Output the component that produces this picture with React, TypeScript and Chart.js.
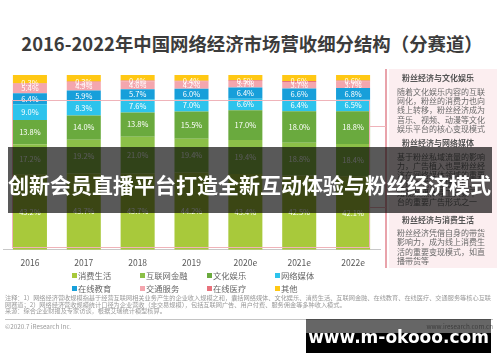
import React, { useEffect, useRef } from "react";
import { Chart, registerables } from "chart.js";

Chart.register(...registerables);

// ---------- data ----------
const categories = ["2016", "2017", "2018", "2019", "2020e", "2021e", "2022e"];
const seriesNames = ["消费生活", "互联网金融", "文化娱乐", "网络媒体", "在线教育", "交通服务", "在线医疗", "其他"];
const consumerLife = [43.2, 43.7, 43.7, 44.2, 43.4, 42.5, 42.1];
const internetFinance = [17.2, 19.2, 21.0, 19.4, 19.4, 18.8, 18.4];
const cultureEnt = [13.8, 14.0, 13.8, 15.5, 17.0, 18.0, 18.8];
const netMedia = [9.0, 8.3, 7.6, 7.0, 6.6, 6.4, 6.5];
const onlineEdu = [6.4, 5.9, 5.7, 6.0, 6.4, 6.6, 6.8];
const transport = [5.4, 4.9, 4.6, 4.2, 3.7, 3.7, 3.7];
const onlineMed = [0.3, 0.3, 0.4, 0.4, 0.5, 0.6, 0.6];
const others = [4.7, 3.7, 3.2, 3.3, 3.0, 3.4, 3.1];
const seriesValues = [consumerLife, internetFinance, cultureEnt, netMedia, onlineEdu, transport, onlineMed, others];
const showLabels = [true, true, true, true, true, true, true, false];

const colors = ["#A8C93B", "#8CC048", "#6AAA3E", "#2DC3EC", "#179FDA", "#F4A6AE", "#E8717B", "#FFC814"];

const title = "2016-2022年中国网络经济市场营收细分结构（分赛道）";
const bannerText = "创新会员直播平台打造全新互动体验与粉丝经济模式";
const panelSections = [
  {
    head: "粉丝经济与文化娱乐",
    lines: ["随着文化娱乐内容的互联", "网化，粉丝的消费力也向", "线上转移，粉丝经济成为", "音乐、视频、动漫等文化", "娱乐平台的核心变现模式"],
  },
  {
    head: "粉丝经济与网络媒体",
    lines: ["基于粉丝私域流量的影响", "力，广告植入也是粉丝经", "济在网络媒体领域的重要", "变现方式，直播平台、", "短视频媒体等工具兼平", "台的重要广告形式之一"],
  },
  {
    head: "粉丝经济与消费生活",
    lines: ["粉丝经济凭借自身的带货", "影响力，成为线上消费生", "活的重要变现模式，如直", "播带货等"],
  },
];
const notes = [
  "注释：1）网络经济营收规模指基于经营互联网相关业务产生的企业收入规模之和，囊括网络媒体、文化娱乐、消费生活、互联网金融、在线教育、在线医疗、交通服务等核心互联",
  "网赛道；2）网络经济营收规模统计口径为企业营收（非交易规模），包括互联网广告、用户付费、服务佣金等多种收入模式。",
  "来源：综合企业财报及专家访谈，根据艾瑞统计模型核算。",
];

const FONT = "'Noto Sans CJK SC', 'Noto Sans', sans-serif";

const segLabelPlugin = {
  id: "segLabels",
  afterDatasetsDraw(chart: any) {
    const ctx = chart.ctx;
    ctx.save();
    ctx.font = `7.5px ${FONT}`;
    ctx.fillStyle = "#ffffff";
    ctx.textAlign = "center";
    ctx.textBaseline = "middle";
    chart.data.datasets.forEach((ds: any, i: number) => {
      if (!showLabels[i]) return;
      const meta = chart.getDatasetMeta(i);
      meta.data.forEach((el: any, j: number) => {
        const p = el.getProps(["x", "y", "base"], true);
        ctx.fillText(Number(ds.data[j]).toFixed(1) + "%", p.x, (p.y + p.base) / 2);
      });
    });
    ctx.restore();
  },
};

function Abs(props: { x: number; y: number; children?: any; style?: any }) {
  return (
    <div style={{ position: "absolute", left: props.x, top: props.y, whiteSpace: "nowrap", ...props.style }}>
      {props.children}
    </div>
  );
}

export default function App() {
  const ref = useRef<HTMLCanvasElement | null>(null);

  useEffect(() => {
    if (!ref.current) return;
    const chart = new Chart(ref.current, {
      type: "bar",
      data: {
        labels: categories,
        datasets: seriesNames.map((name, i) => ({
          label: name,
          data: seriesValues[i],
          backgroundColor: colors[i],
          borderWidth: 0,
          categoryPercentage: 1,
          barPercentage: 0.632,
        })),
      },
      options: {
        animation: false,
        responsive: false,
        devicePixelRatio: 1,
        layout: { padding: { left: 3, right: 120, top: 75, bottom: 86 } },
        plugins: { legend: { display: false }, tooltip: { enabled: false }, title: { display: false } },
        scales: {
          x: {
            stacked: true,
            grid: { display: false, drawTicks: false },
            border: { display: true, color: "#c8c8c8", width: 1 },
            ticks: { color: "#595959", font: { size: 8.5, family: FONT }, padding: 8 },
          },
          y: { stacked: true, min: 0, max: 100, display: false },
        },
      },
      plugins: [segLabelPlugin],
    });
    return () => chart.destroy();
  }, []);

  const pink = "#EFB3B9";
  const legendCols = [72, 140, 207, 275];
  const legendRows = [275, 288];

  return (
    <div style={{ position: "absolute", left: 0, top: 0, width: 500, height: 362, background: "#fff", overflow: "hidden", fontFamily: FONT }}>
      {/* title */}
      <Abs x={0} y={30} style={{ width: 504, textAlign: "center", fontSize: 18.4, fontWeight: 700, color: "#3c3c3c", lineHeight: "26px" }}>
        {title}
      </Abs>

      {/* right panel */}
      <div style={{ position: "absolute", left: 389, top: 69, width: 108, height: 199, background: "#FCEEF0" }} />
      <div style={{ position: "absolute", left: 385, top: 69, width: 2, height: 199, background: "#E9A3AB" }} />

      <canvas ref={ref} width={500} height={362} style={{ position: "absolute", left: 0, top: 0 }} />

      {/* highlight outlines */}
      <div style={{ position: "absolute", left: 12, top: 100, width: 358, height: 148, border: `1px solid ${pink}`, boxSizing: "border-box" }} />
      <div style={{ position: "absolute", left: 370, top: 126, width: 16, height: 1, background: pink }} />
      <div style={{ position: "absolute", left: 370, top: 207, width: 16, height: 1, background: pink }} />

      {panelSections.map((s, si) => {
        const headY = [78, 143, 220][si];
        const bodyY = [91.7, 156.7, 233][si];
        const step = [9.3, 9.0, 9.3][si];
        return (
          <React.Fragment key={si}>
            <Abs x={402} y={headY - 6} style={{ fontSize: 8, fontWeight: 700, color: "#555", lineHeight: "12px" }}>
              {s.head}
            </Abs>
            {s.lines.map((l, li) => (
              <Abs key={li} x={397} y={bodyY + li * step - 6} style={{ fontSize: 8, color: "#6a6a6a", lineHeight: "12px" }}>
                {l}
              </Abs>
            ))}
          </React.Fragment>
        );
      })}

      {/* legend */}
      {seriesNames.map((n, i) => {
        const x = legendCols[i % 4];
        const y = legendRows[Math.floor(i / 4)];
        return (
          <React.Fragment key={n}>
            <div style={{ position: "absolute", left: x, top: y - 2.5, width: 5, height: 5, background: colors[i] }} />
            <Abs x={x + 6} y={y - 6} style={{ fontSize: 8.3, color: "#666", lineHeight: "12px" }}>
              {n}
            </Abs>
          </React.Fragment>
        );
      })}

      {/* notes */}
      {notes.map((t, i) => (
        <Abs key={i} x={5} y={[298, 304.5, 311][i] - 4} style={{ fontSize: 6.2, color: "#9a9a9a", lineHeight: "8px" }}>
          {t}
        </Abs>
      ))}
      <div style={{ position: "absolute", left: 5, top: 319, width: 488, height: 1, background: "#c4c4c4" }} />
      <Abs x={5} y={323} style={{ fontSize: 6.3, color: "#9a9a9a", lineHeight: "8px" }}>
        ©2020.7 iResearch Inc.
      </Abs>
      <Abs x={420} y={323} style={{ fontSize: 6.3, color: "#9a9a9a", lineHeight: "8px", width: 73, textAlign: "right" }}>
        www.iresearch.com.cn
      </Abs>

      {/* banner overlay */}
      <div style={{ position: "absolute", left: 8, top: 147, width: 484, height: 66, background: "rgba(0,0,0,0.65)" }} />
      <Abs x={8} y={170} style={{ fontSize: 21, fontWeight: 700, color: "#fff", lineHeight: "28px" }}>
        {bannerText}
      </Abs>

      {/* watermark box */}
      <div style={{ position: "absolute", left: 306, top: 319, width: 185, height: 14, background: "rgba(0,0,0,0.6)" }} />
      <div style={{ position: "absolute", left: 306, top: 333, width: 185, height: 20, background: "#000" }} />
      <Abs x={306} y={326} style={{ width: 185, textAlign: "center", fontSize: 17, fontWeight: 700, color: "#fff", fontFamily: "'DejaVu Sans', sans-serif", lineHeight: "22px" }}>
        www.m-okooo.com
      </Abs>
    </div>
  );
}
